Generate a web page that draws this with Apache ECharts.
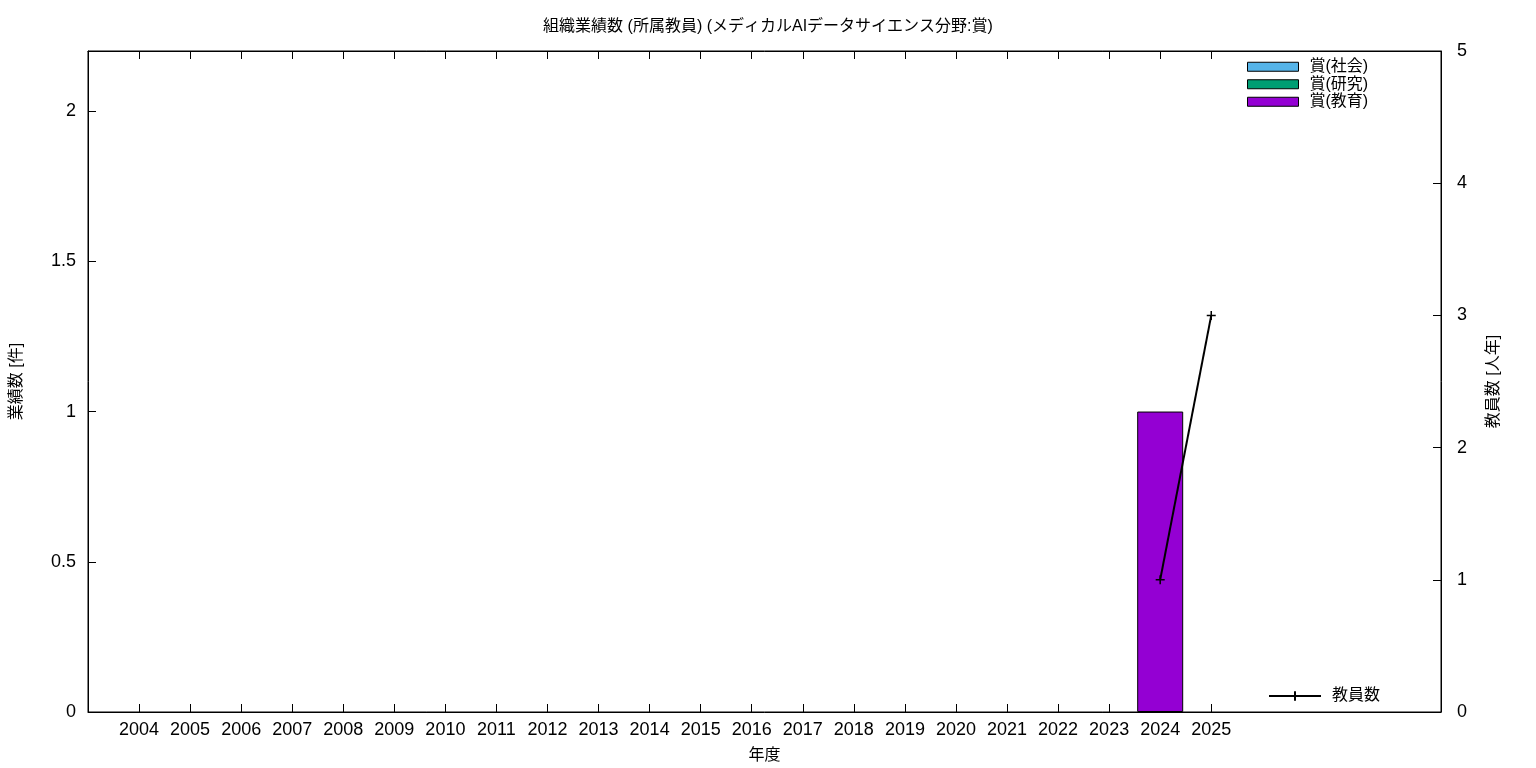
<!DOCTYPE html>
<html>
<head>
<meta charset="utf-8">
<script src="https://cdn.jsdelivr.net/npm/echarts@6/dist/echarts.min.js"></script>
<style>html,body{margin:0;padding:0;background:#fff}#c{width:1536px;height:768px}</style>
</head>
<body>
<div id="c"></div>
<script>
const years = ['2004','2005','2006','2007','2008','2009','2010','2011','2012','2013','2014','2015','2016','2017','2018','2019','2020','2021','2022','2023','2024','2025'];
const awardSocial   = [0,0,0,0,0,0,0,0,0,0,0,0,0,0,0,0,0,0,0,0,0,0];
const awardResearch = [0,0,0,0,0,0,0,0,0,0,0,0,0,0,0,0,0,0,0,0,0,0];
const awardEducation= [0,0,0,0,0,0,0,0,0,0,0,0,0,0,0,0,0,0,0,0,1,0];
const faculty       = [null,null,null,null,null,null,null,null,null,null,null,null,null,null,null,null,null,null,null,null,1,3];
const leftTicks = [0,0.5,1,1.5,2];
const rightTicks = [0,1,2,3,4,5];

const FONT = '"Liberation Sans","Noto Sans CJK JP",sans-serif';
const idx = years.map((_, i) => i);
// zero-height bars are not drawn (as in the original)
const barPairs = arr => arr.map((v, i) => [i, v === 0 ? null : v]);
const pairs = arr => arr.map((v, i) => [i, v]);

const chart = echarts.init(document.getElementById('c'), null, {renderer: 'canvas'});
const barStyle = c => ({color: c, borderColor: '#000', borderWidth: 1});
const plus = 'path://M0,5L10,5M5,0L5,10';

chart.setOption({
  animation: false,
  backgroundColor: '#fff',
  textStyle: {fontFamily: FONT, color: '#000'},
  title: {
    text: '組織業績数 (所属教員) (メディカルAIデータサイエンス分野:賞)',
    left: 'center', top: 14,
    textStyle: {fontFamily: FONT, fontSize: 16, fontWeight: 'normal', color: '#000'}
  },
  grid: {left: 88, right: 95, top: 51, bottom: 56, show: true, borderColor: '#000', borderWidth: 1, backgroundColor: 'transparent', outerBoundsMode: 'none', containLabel: false},
  legend: [
    {
      data: ['賞(社会)', '賞(研究)', '賞(教育)'],
      orient: 'vertical', left: 1247, top: 58, padding: 0,
      itemWidth: 51, itemHeight: 9, itemGap: 0,
      icon: 'rect',
      itemStyle: {borderWidth: 1, borderColor: '#000'},
      textStyle: {fontFamily: FONT, fontSize: 16, color: '#000', lineHeight: 17.5, padding: [0,0,0,6]}
    },
    {
      data: ['教員数'],
      left: 1268, top: 688, padding: 0,
      itemWidth: 52, itemHeight: 12,
      textStyle: {fontFamily: FONT, fontSize: 16, color: '#000', padding: [0,0,0,6]}
    }
  ],
  xAxis: [
    {
      type: 'value', min: -1, max: 25.5, interval: 1,
      position: 'bottom',
      name: '年度', nameLocation: 'middle', nameGap: 36,
      nameTextStyle: {fontFamily: FONT, fontSize: 16, color: '#000'},
      axisLine: {show: true, onZero: false, lineStyle: {color: '#000', width: 1}},
      axisTick: {show: true, inside: true, length: 8, customValues: idx, lineStyle: {color: '#000'}},
      axisLabel: {show: true, customValues: idx, formatter: v => years[Math.round(v)] || '', fontFamily: FONT, fontSize: 18, color: '#000', margin: 9},
      splitLine: {show: false}
    },
    {
      type: 'value', min: -1, max: 25.5, interval: 1,
      position: 'top',
      axisLine: {show: true, onZero: false, lineStyle: {color: '#000', width: 1}},
      axisTick: {show: true, inside: true, length: 8, customValues: idx, lineStyle: {color: '#000'}},
      axisLabel: {show: false},
      splitLine: {show: false}
    }
  ],
  yAxis: [
    {
      type: 'value', min: 0, max: 2.2,
      position: 'left',
      name: '業績数 [件]', nameLocation: 'middle', nameGap: 63, nameRotate: 90,
      nameTextStyle: {fontFamily: FONT, fontSize: 16, color: '#000'},
      axisLine: {show: true, onZero: false, lineStyle: {color: '#000'}},
      axisTick: {show: true, inside: true, length: 8, customValues: leftTicks, lineStyle: {color: '#000'}},
      axisLabel: {customValues: leftTicks, formatter: v => String(v), fontFamily: FONT, fontSize: 18, color: '#000', margin: 12},
      splitLine: {show: false}
    },
    {
      type: 'value', min: 0, max: 5, interval: 1,
      position: 'right',
      name: '教員数 [人年]', nameLocation: 'middle', nameGap: 45, nameRotate: 90,
      nameTextStyle: {fontFamily: FONT, fontSize: 16, color: '#000'},
      axisLine: {show: true, onZero: false, lineStyle: {color: '#000'}},
      axisTick: {show: true, inside: true, length: 8, customValues: rightTicks, lineStyle: {color: '#000'}},
      axisLabel: {customValues: rightTicks, fontFamily: FONT, fontSize: 18, color: '#000', margin: 16},
      splitLine: {show: false}
    }
  ],
  series: [
    {name: '賞(社会)', type: 'bar', stack: 'a', xAxisIndex: 0, yAxisIndex: 0, barWidth: 46, data: barPairs(awardSocial), itemStyle: barStyle('#56B4E9')},
    {name: '賞(研究)', type: 'bar', stack: 'a', xAxisIndex: 0, yAxisIndex: 0, barWidth: 46, data: barPairs(awardResearch), itemStyle: barStyle('#009E73')},
    {name: '賞(教育)', type: 'bar', stack: 'a', xAxisIndex: 0, yAxisIndex: 0, barWidth: 46, data: barPairs(awardEducation), itemStyle: barStyle('#9400D3')},
    {
      name: '教員数', type: 'line', xAxisIndex: 0, yAxisIndex: 1,
      data: pairs(faculty),
      symbol: plus, symbolSize: 9,
      itemStyle: {color: '#000', borderColor: '#000', borderWidth: 1.5},
      lineStyle: {color: '#000', width: 2},
      connectNulls: false
    }
  ]
});
</script>
</body>
</html>
